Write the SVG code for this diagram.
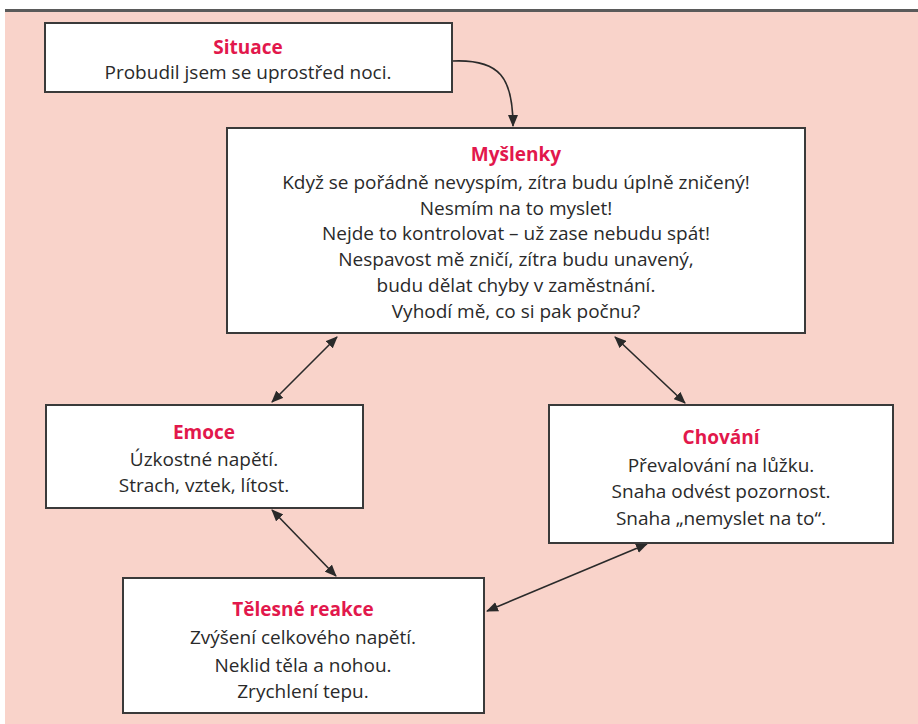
<svg xmlns="http://www.w3.org/2000/svg" width="918" height="724" viewBox="0 0 918 724">
<style>
.box{fill:#fff;stroke:#3a3a3a;stroke-width:2}
.t{font-family:"Open Sans","Liberation Sans",sans-serif;font-size:19px;fill:#2a2a2a;text-anchor:middle}
.h{font-family:"Open Sans","Liberation Sans",sans-serif;font-size:19px;font-weight:bold;fill:#e2184c;text-anchor:middle}
.c{fill:none;stroke:#2a2a2a;stroke-width:1.6}
</style>
<defs>
<marker id="ah" viewBox="0 0 12 10" refX="11" refY="5" markerWidth="12" markerHeight="10" markerUnits="userSpaceOnUse" orient="auto-start-reverse">
<path d="M0,0 L12,5 L0,10 Z" fill="#2a2a2a"/>
</marker>
</defs>
<rect x="0" y="0" width="918" height="724" fill="#fff"/>
<rect x="5" y="12" width="913" height="712" fill="#f9d3ca"/>
<rect x="5" y="9" width="913" height="3" fill="#5a5a5a"/>
<g id="connectors">
<path class="c" d="M453,61 C500,59 513,78 513,126" marker-end="url(#ah)"/>
<path class="c" d="M272,402 L337,337" marker-start="url(#ah)" marker-end="url(#ah)"/>
<path class="c" d="M615,337 L685,403" marker-start="url(#ah)" marker-end="url(#ah)"/>
<path class="c" d="M272,510 L336,576" marker-start="url(#ah)" marker-end="url(#ah)"/>
<path class="c" d="M647,544 L487,611" marker-start="url(#ah)" marker-end="url(#ah)"/>
</g>
<g id="situace">
<rect class="box" x="45" y="23" width="407" height="69"/>
<text class="h" x="248" y="54">Situace</text>
<text class="t" x="248" y="79">Probudil jsem se uprostřed noci.</text>
</g>
<g id="myslenky">
<rect class="box" x="227" y="128" width="578" height="205"/>
<text class="h" x="516" y="161">Myšlenky</text>
<text class="t" x="516" y="189">Když se pořádně nevyspím, zítra budu úplně zničený!</text>
<text class="t" x="516" y="215">Nesmím na to myslet!</text>
<text class="t" x="516" y="240">Nejde to kontrolovat – už zase nebudu spát!</text>
<text class="t" x="516" y="266">Nespavost mě zničí, zítra budu unavený,</text>
<text class="t" x="516" y="292">budu dělat chyby v zaměstnání.</text>
<text class="t" x="516" y="318">Vyhodí mě, co si pak počnu?</text>
</g>
<g id="emoce">
<rect class="box" x="46" y="405" width="317" height="103"/>
<text class="h" x="204" y="439">Emoce</text>
<text class="t" x="204" y="466">Úzkostné napětí.</text>
<text class="t" x="204" y="492">Strach, vztek, lítost.</text>
</g>
<g id="chovani">
<rect class="box" x="549" y="405" width="344" height="138"/>
<text class="h" x="721" y="444">Chování</text>
<text class="t" x="721" y="472">Převalování na lůžku.</text>
<text class="t" x="721" y="498">Snaha odvést pozornost.</text>
<text class="t" x="721" y="525">Snaha „nemyslet na to“.</text>
</g>
<g id="telesne">
<rect class="box" x="123" y="578" width="361" height="135"/>
<text class="h" x="303" y="616">Tělesné reakce</text>
<text class="t" x="303" y="644">Zvýšení celkového napětí.</text>
<text class="t" x="303" y="672">Neklid těla a nohou.</text>
<text class="t" x="303" y="698">Zrychlení tepu.</text>
</g>
</svg>
